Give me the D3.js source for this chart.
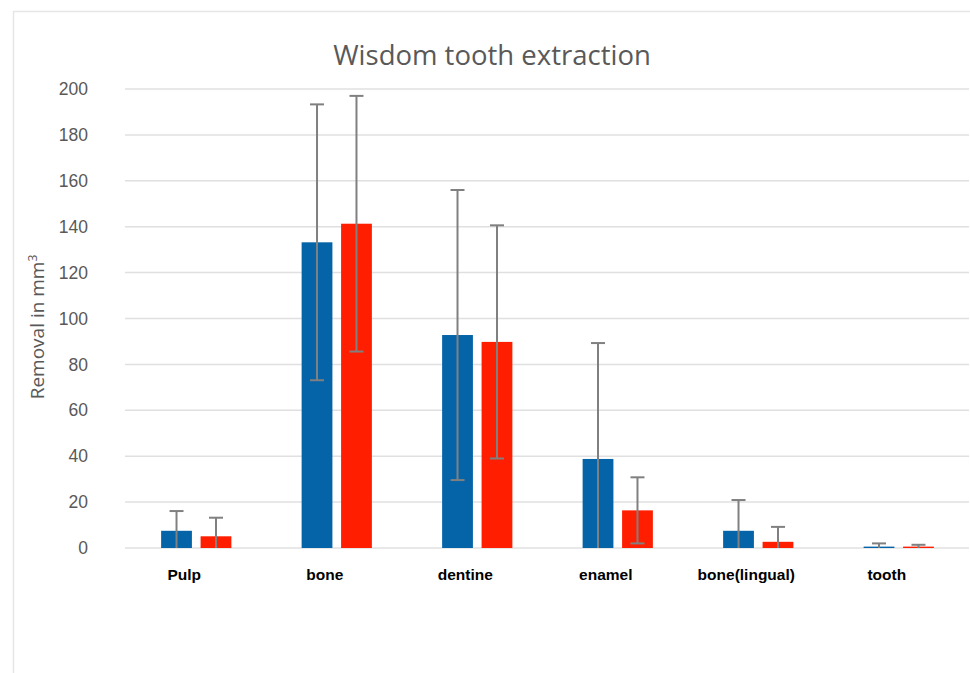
<!DOCTYPE html>
<html>
<head>
<meta charset="utf-8">
<script src="https://cdn.jsdelivr.net/npm/d3@7"></script>
<style>
  body { margin: 0; background: #fff; }
  svg { display: block; font-family: "Open Sans", sans-serif; }
  .grid line { stroke: #e0e0e0; stroke-width: 1.5; }
  .y-axis text { fill: #595959; font-size: 17.5px; }
  .x-axis text { fill: #000; font-size: 15.5px; font-weight: bold; }
</style>
</head>
<body>
<div id="chart"></div>
<script>
// data
const categories = ["Pulp", "bone", "dentine", "enamel", "bone(lingual)", "tooth"]
const seriesNames = ["blue", "red"]
const blueMean = [7.5, 133.2, 92.8, 38.8, 7.5, 0.6]
const blueSd = [8.6, 60.1, 63.2, 50.5, 13.4, 1.4]
const redMean = [5.1, 141.3, 89.8, 16.4, 2.7, 0.6]
const redSd = [8.1, 55.7, 50.8, 14.4, 6.5, 0.8]
const yTicks = [0, 20, 40, 60, 80, 100, 120, 140, 160, 180, 200]

const colors = { blue: "#0563a8", red: "#ff1e00" }

const W = 970, H = 673
const margin = {top: 89, right: 1, bottom: 125, left: 126}
const width = W - margin.left - margin.right
const height = H - margin.top - margin.bottom

const root = d3.select("#chart").append("svg")
    .attr("width", W)
    .attr("height", H)

// outer frame
root.append("rect")
    .attr("x", 13.5)
    .attr("y", 11.5)
    .attr("width", W + 20)
    .attr("height", H + 20)
    .attr("fill", "none")
    .attr("stroke", "#e6e6e6")
    .attr("stroke-width", 1.5)

root.append("text")
    .attr("x", 492)
    .attr("y", 65)
    .attr("text-anchor", "middle")
    .attr("fill", "#595959")
    .style("font-size", "27.5px")
    .text("Wisdom tooth extraction")

const svg = root.append("g")
    .attr("transform", `translate(${margin.left},${margin.top})`)

const xScale = d3.scaleBand()
    .domain(categories)
    .range([0, width])
    .paddingInner(0.5)
    .paddingOuter(0.25)

const xSub = d3.scaleBand()
    .domain(seriesNames)
    .range([0, xScale.bandwidth()])
    .paddingInner(0.22)

const yScale = d3.scaleLinear()
    .domain([0, 200])
    .range([height, 0])

// gridlines
svg.append("g")
    .attr("class", "grid")
    .selectAll("line")
    .data(yTicks)
    .join("line")
        .attr("x1", -1)
        .attr("x2", width)
        .attr("y1", d => yScale(d))
        .attr("y2", d => yScale(d))

const yAxis = d3.axisLeft(yScale)
    .tickValues(yTicks)
    .tickSize(0)
    .tickPadding(38)

svg.append("g")
    .attr("class", "y-axis")
    .call(yAxis)
    .call(g => g.select(".domain").remove())

const xAxis = d3.axisBottom(xScale)
    .tickSize(0)
    .tickPadding(21)

svg.append("g")
    .attr("class", "x-axis")
    .attr("transform", `translate(0,${height})`)
    .call(xAxis)
    .call(g => g.select(".domain").remove())
    .selectAll("text")
        .attr("dx", -12)

const yLabel = root.append("text")
    .attr("transform", "translate(44,327) rotate(-90)")
    .attr("text-anchor", "middle")
    .attr("fill", "#595959")
    .style("font-size", "19px")
yLabel.append("tspan").text("Removal in mm")
yLabel.append("tspan").attr("dy", -7).style("font-size", "12px").text("3")

// table built from the arrays
const rows = categories.map((c, i) => ({
    cat: c,
    values: [
        {key: "blue", mean: blueMean[i], sd: blueSd[i]},
        {key: "red", mean: redMean[i], sd: redSd[i]}
    ]
}))

const groups = svg.append("g")
    .selectAll("g")
    .data(rows)
    .join("g")
        .attr("transform", d => `translate(${xScale(d.cat)},0)`)

groups.selectAll("rect")
    .data(d => d.values)
    .join("rect")
        .attr("x", d => xSub(d.key))
        .attr("width", xSub.bandwidth())
        .attr("y", d => yScale(d.mean))
        .attr("height", d => yScale(0) - yScale(d.mean))
        .attr("fill", d => colors[d.key])

// error bars
const capW = 14
const err = groups.selectAll("g.err")
    .data(d => d.values)
    .join("g")
        .attr("class", "err")
        .attr("stroke", "#808080")
        .attr("stroke-width", 2)

err.append("line")
    .attr("x1", d => xSub(d.key) + xSub.bandwidth() / 2)
    .attr("x2", d => xSub(d.key) + xSub.bandwidth() / 2)
    .attr("y1", d => yScale(d.mean + d.sd))
    .attr("y2", d => yScale(Math.max(0, d.mean - d.sd)))

err.append("line")
    .attr("x1", d => xSub(d.key) + xSub.bandwidth() / 2 - capW / 2)
    .attr("x2", d => xSub(d.key) + xSub.bandwidth() / 2 + capW / 2)
    .attr("y1", d => yScale(d.mean + d.sd))
    .attr("y2", d => yScale(d.mean + d.sd))

err.filter(d => d.mean - d.sd > 0).append("line")
    .attr("x1", d => xSub(d.key) + xSub.bandwidth() / 2 - capW / 2)
    .attr("x2", d => xSub(d.key) + xSub.bandwidth() / 2 + capW / 2)
    .attr("y1", d => yScale(d.mean - d.sd))
    .attr("y2", d => yScale(d.mean - d.sd))
</script>
</body>
</html>
